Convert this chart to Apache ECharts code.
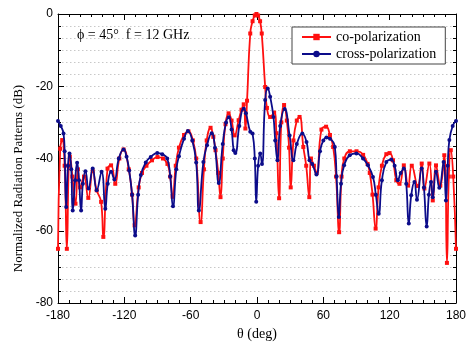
<!DOCTYPE html>
<html>
<head>
<meta charset="utf-8">
<script src="https://cdn.jsdelivr.net/npm/echarts@6/dist/echarts.min.js"></script>
<style>html,body{margin:0;padding:0;background:#fff}#chart{width:469px;height:347px}</style>
</head>
<body>
<div id="chart"></div>
<script>
// theta (deg), level (dB)
const coPolarization = [
[-180,-65],[-178,-37.3],[-176.2,-34.9],[-174,-42],[-172,-65],[-170.3,-42],[-169.3,-39.5],[-167,-45],[-164.2,-52.5],[-162,-43],
[-160,-48],[-156.5,-45],[-152.6,-50.9],[-148.6,-43.5],[-145,-48.8],[-141,-52],[-139,-61.7],[-135.2,-42.8],[-132,-41.9],[-128.2,-47],
[-124.5,-40],[-120.7,-37.5],[-116,-43],[-113,-50],[-110.7,-58.5],[-107,-48],[-104,-44],[-100,-42],[-95,-40.5],[-90,-39.6],
[-85,-40],[-81,-41.5],[-78.5,-45],[-76.3,-50.6],[-73.5,-42],[-70.6,-37],[-66,-33.5],[-62,-32.5],[-58,-35],[-55,-40],
[-51,-57.6],[-48,-43],[-45.5,-35],[-42,-31.5],[-39.5,-34],[-37.5,-37.7],[-35,-44],[-33,-50.7],[-31,-40],[-28.5,-30.5],
[-25.7,-27.5],[-23,-29.5],[-20.2,-33.6],[-16.6,-29.4],[-14,-26.5],[-12,-25],[-10.5,-31.7],[-9,-24],[-6.1,-5.4],[-4,-2],
[-2,-0.4],[-0.5,0],[1,-0.4],[2.8,-2],[4.3,-5.4],[7.4,-20.2],[9,-26],[11.9,-28.5],[15.5,-27.3],[17.5,-33],[20,-51],[22,-30],
[24.5,-25.2],[27,-29.5],[29,-37],[30.5,-48],[33,-35],[36,-29.5],[38.5,-28.5],[41.9,-36.8],[44.5,-42],[47.3,-50.7],
[48.8,-40],[51.5,-42],[54,-44],[58.3,-32],[62.5,-31.2],[66,-33.5],[68.9,-36.8],[71.5,-45],[74.3,-60.4],[76.5,-45],
[79,-40],[84,-38],[90,-38],[96,-39],[100,-41.5],[102,-44],[104.5,-50],[107.3,-59.4],[110,-48],[113,-42],
[117,-38.8],[119.9,-38.5],[123,-40.5],[126,-46],[128.9,-47],[132.8,-41.9],[136.7,-47.5],[140,-42],[145.4,-47.6],[149,-41.4],
[151.4,-48.3],[155.9,-41.4],[159,-51.6],[161.9,-41.9],[165.8,-47.5],[169.4,-39.1],[171.8,-68.9],[173.5,-45],[175.3,-37.7],[177.5,-45],
[180,-65]
];
const crossPolarization = [
[-180,-29.6],[-177.5,-31],[-175,-33.1],[-174,-38],[-172.6,-53.4],[-171,-42],[-169.6,-38.6],[-168,-43],[-166.7,-54.4],[-164.5,-46],
[-162.7,-41.2],[-161,-46],[-159.1,-54.4],[-157.5,-47],[-155.2,-43.5],[-152.4,-48.3],[-148.6,-42.8],[-145,-48.8],[-140.6,-43.7],[-137.2,-53.9],
[-135,-47],[-132,-43.7],[-129,-45.8],[-125,-40],[-120.7,-37.5],[-118,-39.5],[-115.6,-43.3],[-113,-50],[-110.2,-61.3],[-107.5,-50],
[-105.1,-44.6],[-100.6,-41.1],[-96.1,-39.6],[-90.2,-38.5],[-85.7,-38.8],[-81.2,-40],[-78.5,-45],[-76,-53.2],[-73,-43],[-70.6,-39.4],
[-66,-34.5],[-62.5,-32.4],[-58.5,-35],[-55,-41.1],[-52.6,-54.4],[-48.5,-41],[-45.2,-36.3],[-41,-33],[-38,-37],[-34.6,-46.8],
[-31,-36],[-28,-30],[-25.5,-28.6],[-23,-32],[-21.1,-37.7],[-19.6,-38.5],[-16,-31],[-12,-26.2],[-10,-27.5],[-6.1,-32.6],
[-4,-33.1],[-2,-40],[-0.7,-52],[1,-42],[2.9,-38.6],[4.5,-41.5],[7.4,-23.8],[9.7,-20.6],[11.9,-22.9],[14.9,-28.5],
[16.5,-35],[18.5,-40.5],[21,-31],[25,-26.3],[29.5,-33.6],[32.9,-40.5],[36,-36],[41,-33.1],[44.8,-35.4],[47.5,-40.5],
[50,-41.5],[53.8,-44.4],[57,-38],[60,-35],[62.8,-34.2],[66,-34.5],[70.4,-36.8],[72,-45],[74,-56.2],[76,-47],
[78.8,-41.9],[83.9,-39.1],[89.9,-38.6],[95.9,-40],[100.4,-41.9],[104.9,-45.1],[107.5,-50],[110.1,-55.3],[113,-46],[117,-41],
[121.4,-40.3],[124.5,-42],[127.4,-46],[130,-44],[132.8,-42.8],[135,-47],[137.3,-58],[139.5,-50.2],[142.4,-46.5],[144.7,-51.4],
[149,-42.8],[151,-48],[153.5,-58.8],[155.5,-50],[157.4,-46.5],[159,-50.7],[161.9,-43.7],[164.9,-48.1],[168.8,-41],[170.9,-51.6],
[172.5,-42],[174,-34.9],[177,-31],[180,-29.6]
];
const seriesNames = ['co-polarization', 'cross-polarization'];
const annotationText = 'ϕ = 45°  f = 12 GHz';
const xTitle = 'θ (deg)';
const yTitle = 'Normalized Radiation Patterns (dB)';

const chart = echarts.init(document.getElementById('chart'), null, {renderer: 'canvas'});
const black = '#000';
const dotted = {show: true, lineStyle: {type: [1.5, 2.5], color: '#c8c8c8', width: 1}};
function xAx(pos, main) {
  return {
    type: 'value', position: pos, min: -180, max: 180, interval: 60,
    axisLine: {show: true, onZero: false, lineStyle: {color: black, width: 1}},
    axisTick: {show: true, inside: true, length: 6, lineStyle: {color: black}},
    minorTick: {show: true, splitNumber: 6, length: 3, lineStyle: {color: black}},
    axisLabel: {show: main, color: black, fontFamily: 'Liberation Sans', fontSize: 12, margin: 7},
    splitLine: {show: false},
    name: main ? xTitle : '', nameLocation: 'middle', nameGap: 24,
    nameTextStyle: {fontFamily: 'Liberation Serif', fontSize: 14, color: black}
  };
}
function yAx(pos, main) {
  return {
    type: 'value', position: pos, min: -80, max: 0, interval: 20,
    axisLine: {show: true, onZero: false, lineStyle: {color: black, width: 1}},
    axisTick: {show: true, inside: true, length: 6, lineStyle: {color: black}},
    minorTick: {show: true, splitNumber: 6, length: 3, lineStyle: {color: black}},
    axisLabel: {show: main, color: black, fontFamily: 'Liberation Sans', fontSize: 12, margin: 5},
    splitLine: main ? dotted : {show: false},
    minorSplitLine: main ? dotted : {show: false},
    name: main ? yTitle : '', nameLocation: 'middle', nameGap: 32,
    nameTextStyle: {fontFamily: 'Liberation Serif', fontSize: 13, color: black, padding: [0, 40, 0, 0]}
  };
}
const option = {
  animation: false,
  backgroundColor: '#fff',
  grid: {left: 58, right: 11, top: 14, bottom: 44},
  xAxis: [xAx('bottom', true), xAx('top', false)],
  yAxis: [yAx('left', true), yAx('right', false)],
  legend: {
    data: seriesNames, orient: 'vertical', left: 292, top: 27,
    padding: [3, 9, 3, 9], itemGap: 3, itemWidth: 29, itemHeight: 8,
    borderColor: '#444', borderWidth: 1, backgroundColor: '#fff',
    textStyle: {fontFamily: 'Liberation Serif', fontSize: 14, color: black}
  },
  graphic: [{
    type: 'text', left: 77, top: 28,
    style: {text: annotationText, font: '14px "Liberation Serif"', fill: black}
  }],
  series: [
    {name: seriesNames[0], type: 'line', data: coPolarization, smooth: 0.5,
     symbol: 'rect', symbolSize: 4, showAllSymbol: true,
     lineStyle: {color: '#ff1010', width: 1.8}, itemStyle: {color: '#ff1010'}, z: 3},
    {name: seriesNames[1], type: 'line', data: crossPolarization, smooth: 0.5,
     symbol: 'circle', symbolSize: 4, showAllSymbol: true,
     lineStyle: {color: '#0c0c8a', width: 1.8}, itemStyle: {color: '#0c0c8a'}, z: 4}
  ]
};
chart.setOption(option);
</script>
</body>
</html>
